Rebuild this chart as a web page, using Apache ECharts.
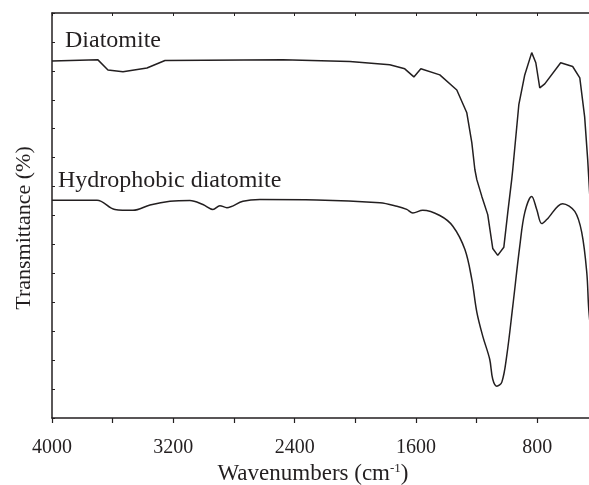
<!DOCTYPE html>
<html>
<head>
<meta charset="utf-8">
<script src="https://cdn.jsdelivr.net/npm/echarts@6/dist/echarts.min.js"></script>
<style>html,body{margin:0;padding:0;background:#fff}#c{width:589px;height:485px}</style>
</head>
<body>
<div id="c"></div>
<script>
// Wavenumbers (cm-1) and transmittance (arbitrary units, offset curves)
const diatomiteX = [4000,3697,3631,3532,3374,3255,2478,2036,1773,1674,1614,1568,1443,1331,1265,1232,1212,1199,1166,1127,1094,1061,1021,995,969,962,922,883,837,810,784,751,646,567,520,488,468,441];
const diatomiteY = [123.4,123.8,120.3,119.7,121.0,123.6,123.8,123.2,122.1,120.7,117.9,120.7,118.6,113.4,105.5,95.2,85.9,82.4,76.6,70.3,58.6,56.2,59.0,71.0,82.4,85.9,108.3,118.6,126.3,122.8,114.1,115.5,122.8,121.5,117.6,104.1,89.3,65.0];
const hydroX = [4000,3703,3585,3466,3354,3222,3091,3005,2939,2893,2847,2741,2629,2254,1838,1726,1661,1621,1555,1443,1357,1278,1232,1199,1160,1114,1094,1067,1034,1002,962,916,883,837,804,771,738,633,553,507,474,461,441];
const hydroY = [75.3,75.3,72.1,71.8,73.6,74.9,75.2,73.8,72.1,73.4,72.7,74.9,75.5,75.4,74.4,73.2,72.1,70.9,71.8,70.0,66.3,58.3,47.9,36.6,28.3,20.3,13.4,11.0,12.4,21.4,38.6,59.3,71.0,76.6,72.1,67.2,68.6,74.1,71.4,64.1,50.3,37.6,27.0];
const xTickLabels = ['4000','3200','2400','1600','800'];
const seriesNames = ['Diatomite','Hydrophobic diatomite'];
const xTitle = 'Wavenumbers (cm{sup|-1})';
const yTitle = 'Transmittance (%)';

const zip = (xs, ys) => xs.map((x, i) => [x, ys[i]]);
const font = 'Liberation Serif, Times New Roman, serif';
const ink = '#231f20';

const chart = echarts.init(document.getElementById('c'));
chart.setOption({
  animation: false,
  backgroundColor: '#fff',
  grid: { left: 52, top: 13, width: 546, bottom: 67, containLabel: false, outerBoundsMode: 'none' },
  xAxis: [{
    type: 'value', min: 400, max: 4000, interval: 400, inverse: true,
    position: 'bottom',
    axisLine: { show: true, lineStyle: { color: ink, width: 1.5 } },
    axisTick: { show: true, inside: false, length: 5, lineStyle: { color: ink, width: 1.2 } },
    axisLabel: {
      margin: 20, color: ink, fontFamily: font, fontSize: 20,
      formatter: v => xTickLabels.includes(String(v)) ? String(v) : ''
    },
    splitLine: { show: false }
  }, {
    type: 'value', min: 400, max: 4000, interval: 400, inverse: true,
    position: 'top',
    axisLine: { show: true, lineStyle: { color: ink, width: 1.5 } },
    axisTick: { show: true, inside: true, length: 3, lineStyle: { color: ink, width: 1 } },
    axisLabel: { show: false },
    splitLine: { show: false }
  }],
  yAxis: {
    type: 'value', min: 0, max: 140, interval: 10,
    axisLine: { show: true, lineStyle: { color: ink, width: 1.5 } },
    axisTick: { show: true, inside: true, length: 3, lineStyle: { color: ink, width: 1 } },
    axisLabel: { show: false },
    splitLine: { show: false }
  },
  series: [{
    name: seriesNames[0], type: 'line', data: zip(diatomiteX, diatomiteY),
    showSymbol: false, smooth: false, clip: true,
    lineStyle: { color: ink, width: 1.5 }
  }, {
    name: seriesNames[1], type: 'line', data: zip(hydroX, hydroY),
    showSymbol: false, smooth: 0.35, clip: true,
    lineStyle: { color: ink, width: 1.5 }
  }],
  graphic: [
    { type: 'text', left: 65, top: 29, style: { text: seriesNames[0], font: '24px ' + font, fill: ink } },
    { type: 'text', left: 58, top: 169, style: { text: seriesNames[1], font: '24px ' + font, fill: ink } },
    { type: 'text', x: 24, y: 228, rotation: Math.PI / 2,
      style: { text: yTitle, fontSize: 22, fontFamily: font, fill: ink, align: 'center', verticalAlign: 'middle' } },
    { type: 'text', x: 313, y: 474,
      style: { text: xTitle, fontSize: 23, fontFamily: font, fill: ink, align: 'center', verticalAlign: 'middle',
        rich: { sup: { fontSize: 13, fontFamily: font, fill: ink, verticalAlign: 'top', padding: [0, 0, 10, 0] } } } }
  ]
});
</script>
</body>
</html>
